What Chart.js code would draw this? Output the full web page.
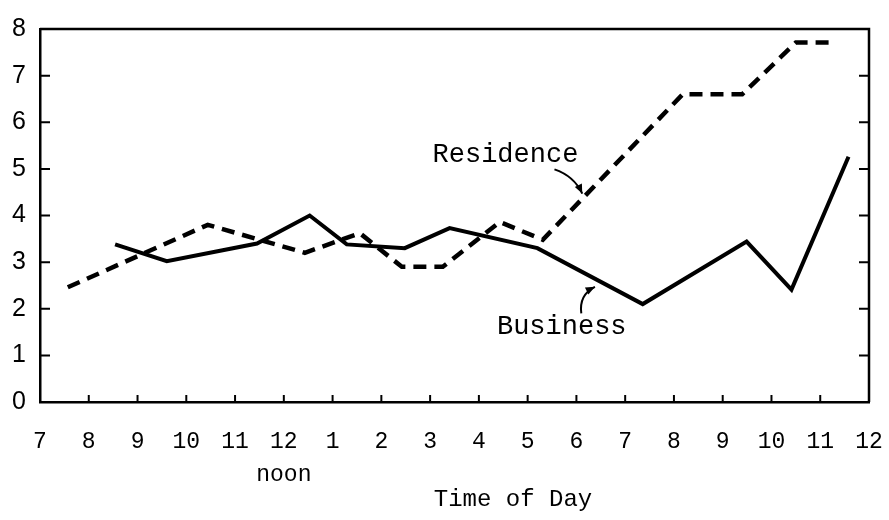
<!DOCTYPE html>
<html>
<head>
<meta charset="utf-8">
<script src="https://cdn.jsdelivr.net/npm/chart.js@4"></script>
<style>
  html, body { margin: 0; padding: 0; background: #fff; }
  #wrap { width: 889px; height: 520px; }
</style>
</head>
<body>
<div id="wrap"><canvas id="chart"></canvas></div>
<script>
// hours from 7 am (7) to midnight (24)
const tickLabels = ['7', '8', '9', '10', '11', ['12', 'noon'], '1', '2', '3', '4', '5', '6', '7', '8', '9', '10', '11', '12'];
const yTicks = [0, 1, 2, 3, 4, 5, 6, 7, 8];

// Residence curve (dashed)
const residenceTime = [7.57, 10.44, 12.43, 13.56, 14.42, 15.26, 16.43, 17.31, 20.18, 21.4, 22.5, 23.33];
const residenceCalls = [2.46, 3.8, 3.2, 3.62, 2.9, 2.9, 3.86, 3.48, 6.6, 6.6, 7.71, 7.71];

// Business curve (solid)
const businessTime = [8.54, 9.6, 11.45, 12.53, 13.29, 14.48, 15.4, 17.2, 19.36, 21.49, 22.41, 23.58];
const businessCalls = [3.38, 3.02, 3.4, 4.0, 3.38, 3.3, 3.73, 3.3, 2.1, 3.44, 2.41, 5.26];

const monoFont = '"Liberation Mono", "DejaVu Sans Mono", monospace';

function toPoints(xs, ys) {
    return xs.map((x, i) => ({ x: x, y: ys[i] }));
}

// arrow drawn as a quadratic curve with a head at its end
function drawArrow(ctx, x1, y1, cx, cy, x2, y2) {
    ctx.beginPath();
    ctx.moveTo(x1, y1);
    ctx.quadraticCurveTo(cx, cy, x2, y2);
    ctx.stroke();
    const ang = Math.atan2(y2 - cy, x2 - cx);
    const len = 10;
    ctx.beginPath();
    ctx.moveTo(x2, y2);
    ctx.lineTo(x2 - len * Math.cos(ang - 0.4), y2 - len * Math.sin(ang - 0.4));
    ctx.lineTo(x2 - len * Math.cos(ang + 0.4), y2 - len * Math.sin(ang + 0.4));
    ctx.closePath();
    ctx.fill();
}

const framePlugin = {
    id: 'frame',
    afterDraw(chart) {
        const ctx = chart.ctx;
        const xs = chart.scales.x;
        const ys = chart.scales.y;
        const a = chart.chartArea;
        ctx.save();
        ctx.strokeStyle = '#000';
        ctx.fillStyle = '#000';

        // top and right border
        ctx.lineWidth = 2.5;
        ctx.beginPath();
        ctx.moveTo(a.left, a.top);
        ctx.lineTo(a.right, a.top);
        ctx.lineTo(a.right, a.bottom);
        ctx.stroke();

        // inward ticks
        ctx.lineWidth = 2;
        for (let h = 8; h < 24; h++) {
            const px = xs.getPixelForValue(h);
            ctx.beginPath();
            ctx.moveTo(px, a.bottom);
            ctx.lineTo(px, a.bottom - 7);
            ctx.stroke();
        }
        for (let v = 1; v < 8; v++) {
            const py = ys.getPixelForValue(v);
            ctx.beginPath();
            ctx.moveTo(a.left, py);
            ctx.lineTo(a.left + 10, py);
            ctx.moveTo(a.right, py);
            ctx.lineTo(a.right - 10, py);
            ctx.stroke();
        }

        // labels and arrows
        ctx.font = '27px ' + monoFont;
        ctx.textBaseline = 'middle';
        ctx.textAlign = 'left';
        ctx.fillText('Residence', xs.getPixelForValue(15.05), ys.getPixelForValue(5.3));
        ctx.fillText('Business', xs.getPixelForValue(16.37), ys.getPixelForValue(1.61));

        ctx.lineWidth = 2;
        drawArrow(ctx,
            xs.getPixelForValue(17.55), ys.getPixelForValue(4.99),
            xs.getPixelForValue(17.95), ys.getPixelForValue(4.85),
            xs.getPixelForValue(18.12), ys.getPixelForValue(4.47));
        drawArrow(ctx,
            xs.getPixelForValue(18.1), ys.getPixelForValue(1.9),
            xs.getPixelForValue(18.05), ys.getPixelForValue(2.3),
            xs.getPixelForValue(18.38), ys.getPixelForValue(2.47));

        ctx.textAlign = 'center';
        ctx.font = '24px ' + monoFont;
        ctx.fillText('Time of Day', xs.getPixelForValue(16.7), a.bottom + 98);
        ctx.restore();
    }
};

const ctx = document.getElementById('chart').getContext('2d');

const chart = new Chart(ctx, {
    type: 'line',
    data: {
        datasets: [
            {
                label: 'Residence',
                data: toPoints(residenceTime, residenceCalls),
                borderColor: '#000',
                borderWidth: 4.5,
                borderDash: [13, 8],
                pointRadius: 0,
                tension: 0,
                fill: false
            },
            {
                label: 'Business',
                data: toPoints(businessTime, businessCalls),
                borderColor: '#000',
                borderWidth: 4,
                pointRadius: 0,
                tension: 0,
                fill: false
            }
        ]
    },
    options: {
        responsive: true,
        maintainAspectRatio: false,
        animation: false,
        layout: { padding: { top: 14, right: 0, left: 0, bottom: 0 } },
        plugins: {
            legend: { display: false },
            tooltip: { enabled: false }
        },
        scales: {
            x: {
                type: 'linear',
                min: 7,
                max: 24,
                afterFit: (s) => { s.height = 118; s.paddingRight = 20; s.paddingLeft = 0; },
                afterBuildTicks: (s) => {
                    s.ticks = tickLabels.map((_, i) => ({ value: 7 + i }));
                },
                grid: { display: false, drawTicks: false },
                border: { display: true, color: '#000', width: 2.5 },
                ticks: {
                    autoSkip: false,
                    maxRotation: 0,
                    padding: 23,
                    color: '#000',
                    font: { family: monoFont, size: 23, lineHeight: 1.45 },
                    callback: (v) => tickLabels[v - 7]
                }
            },
            y: {
                min: 0,
                max: 8,
                afterFit: (s) => { s.width = 40; },
                afterBuildTicks: (s) => {
                    s.ticks = yTicks.map(v => ({ value: v }));
                },
                grid: { display: false, drawTicks: false },
                border: { display: true, color: '#000', width: 2.5 },
                ticks: {
                    padding: 14,
                    color: '#000',
                    font: { family: '"Liberation Sans", Arial, sans-serif', size: 25 }
                }
            }
        }
    },
    plugins: [framePlugin]
});
</script>
</body>
</html>
